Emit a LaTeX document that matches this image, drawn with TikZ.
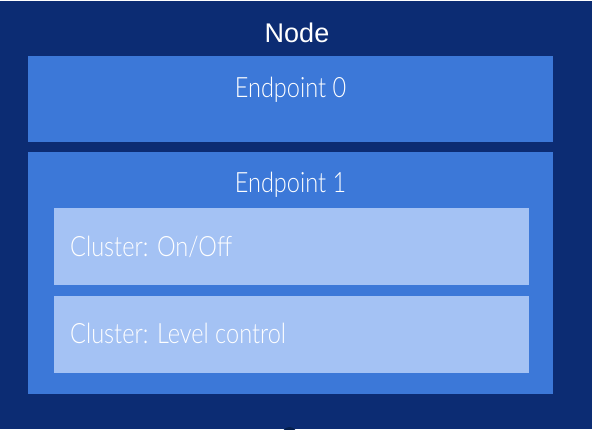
\documentclass[tikz,border=0pt]{standalone}
\usepackage{fontspec}
\newfontfamily\labelfont[FakeStretch=0.84]{Lato Light}
\newfontfamily\titlefont{Liberation Sans}
\definecolor{navy}{HTML}{0C2C73}
\definecolor{navydark}{HTML}{06204F}
\definecolor{epblue}{HTML}{3C78D8}
\definecolor{clblue}{HTML}{A4C2F4}
\tikzset{
  epbox/.style={fill=epblue, draw=none},
  clbox/.style={fill=clblue, draw=none},
  eplabel/.style={text=white, font=\labelfont\fontsize{28}{30}\selectfont, anchor=base, inner sep=0pt},
  cllabel/.style={text=white, font=\labelfont\fontsize{28}{30}\selectfont, anchor=base west, inner sep=0pt},
}
\begin{document}
\begin{tikzpicture}[x=1pt,y=-1pt]
\useasboundingbox (0,0) rectangle (593,429);
\fill[white] (0,0) rectangle (593,429);
\fill[navy] (0,1) rectangle (592,429);
\begin{scope}
\clip (0,0) rectangle (593,429);
\fill[navydark] (289.5,436) ellipse (8 and 9);
\end{scope}
\node[text=white, font=\titlefont\fontsize{27}{30}\selectfont, anchor=base, inner sep=0pt] (title) at (297,42) {Node};
\path[epbox] (28,56) rectangle (553,142);
\node[eplabel] (ep0) at (290.5,97) {Endpoint 0};
\path[epbox] (28,152) rectangle (553,394);
\node[eplabel] (ep1) at (290.5,192) {Endpoint 1};
\path[clbox] (54,208) rectangle (529,285);
\node[cllabel] (cl1) at (70,256) {Cluster: On/Off};
\path[clbox] (54,296) rectangle (529,373);
\node[cllabel] (cl2) at (70,343.5) {Cluster: Level control};
\end{tikzpicture}
\end{document}
